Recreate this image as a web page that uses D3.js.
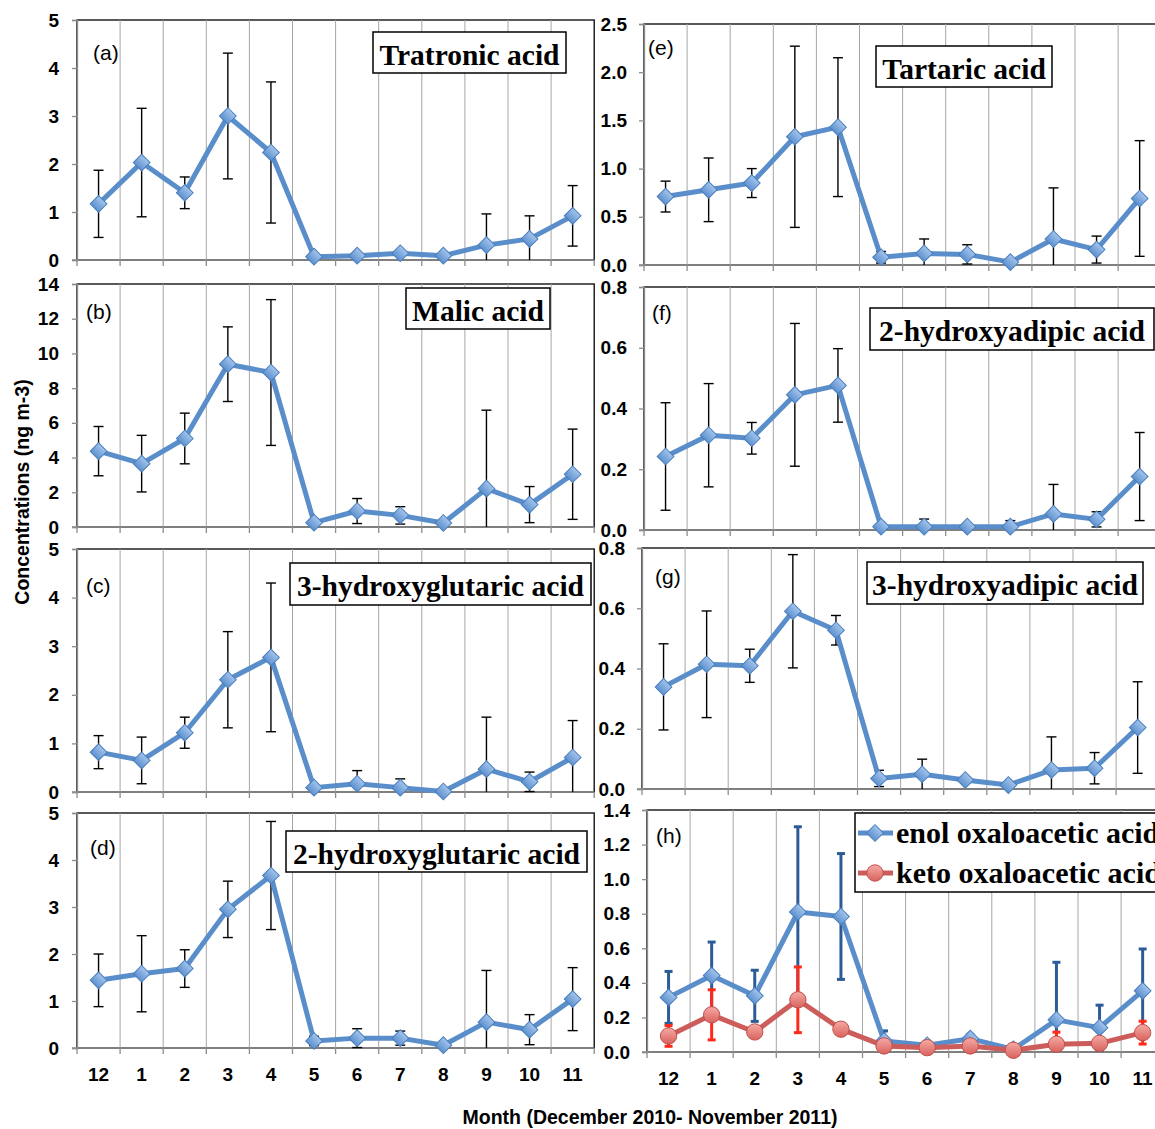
<!DOCTYPE html>
<html><head><meta charset="utf-8">
<script src="https://cdn.jsdelivr.net/npm/d3@7"></script>
<style>body{margin:0;background:#fff} svg{display:block;background:#fff}</style>
</head><body><svg id="chart" width="1155" height="1129"></svg>
<script>
// ---------- data ----------
const months = ["12","1","2","3","4","5","6","7","8","9","10","11"];

const tratronic   = [1.17, 2.03, 1.40, 3.00, 2.24, 0.07, 0.09, 0.14, 0.09, 0.31, 0.44, 0.92];
const tratronicSD = [0.70, 1.13, 0.33, 1.31, 1.47, 0.03, 0.04, 0.05, 0.04, 0.65, 0.48, 0.63];

const malic   = [4.37, 3.65, 5.10, 9.38, 8.90, 0.25, 0.92, 0.67, 0.23, 2.21, 1.29, 3.04];
const malicSD = [1.42, 1.63, 1.46, 2.15, 4.20, 0.15, 0.72, 0.50, 0.10, 4.52, 1.04, 2.60];

const hg3   = [0.82, 0.65, 1.22, 2.31, 2.77, 0.09, 0.17, 0.09, 0.01, 0.47, 0.21, 0.71];
const hg3SD = [0.34, 0.48, 0.32, 0.99, 1.53, 0.05, 0.27, 0.18, 0.02, 1.07, 0.20, 0.76];

const hg2   = [1.44, 1.58, 1.69, 2.95, 3.67, 0.15, 0.21, 0.21, 0.06, 0.55, 0.39, 1.04];
const hg2SD = [0.56, 0.81, 0.40, 0.60, 1.15, 0.10, 0.20, 0.15, 0.04, 1.10, 0.32, 0.67];

const tartaric   = [0.71, 0.78, 0.85, 1.33, 1.43, 0.08, 0.12, 0.11, 0.03, 0.27, 0.16, 0.69];
const tartaricSD = [0.16, 0.33, 0.15, 0.94, 0.72, 0.06, 0.15, 0.10, 0.02, 0.53, 0.14, 0.60];

const ha2   = [0.242, 0.312, 0.302, 0.445, 0.476, 0.011, 0.011, 0.011, 0.011, 0.053, 0.035, 0.176];
const ha2SD = [0.177, 0.170, 0.052, 0.235, 0.121, 0.008, 0.025, 0.010, 0.020, 0.097, 0.025, 0.145];

const ha3   = [0.339, 0.414, 0.409, 0.590, 0.527, 0.035, 0.049, 0.030, 0.013, 0.063, 0.069, 0.204];
const ha3SD = [0.143, 0.177, 0.055, 0.188, 0.049, 0.027, 0.050, 0.010, 0.008, 0.110, 0.052, 0.152];

const enol   = [0.316, 0.442, 0.325, 0.810, 0.784, 0.064, 0.039, 0.077, 0.015, 0.186, 0.141, 0.354];
const enolSD = [0.150, 0.194, 0.148, 0.493, 0.364, 0.058, 0.020, 0.025, 0.008, 0.333, 0.130, 0.242];
const keto   = [0.093, 0.215, 0.116, 0.302, 0.132, 0.035, 0.025, 0.035, 0.010, 0.045, 0.050, 0.112];
const ketoSD = [0.060, 0.145, 0.020, 0.190, 0.020, 0.010, 0.010, 0.010, 0.005, 0.070, 0.020, 0.066];

const titles = ["Tratronic acid","Malic acid","3-hydroxyglutaric acid","2-hydroxyglutaric acid",
                "Tartaric acid","2-hydroxyadipic acid","3-hydroxyadipic acid"];
const legendLabels = ["enol oxaloacetic acid","keto oxaloacetic acid"];
const yTitle = "Concentrations (ng m-3)";
const xTitle = "Month (December 2010- November 2011)";

// ---------- styling ----------
const STEP = 43.1;
const BLUE = "#5a8ecb", RED = "#cd5d5a";
const SANS = "'Liberation Sans', Arial, sans-serif";
const SERIF = "'Liberation Serif', 'Times New Roman', serif";
const svg = d3.select("#chart");
const defs = svg.append("defs");
function grad(id, c1, c2){
  const g = defs.append("linearGradient").attr("id", id).attr("x1",0).attr("y1",0).attr("x2",0).attr("y2",1);
  g.append("stop").attr("offset","0%").attr("stop-color", c1);
  g.append("stop").attr("offset","100%").attr("stop-color", c2);
}
grad("gBlue", "#a3c4ec", "#5d91cf");
grad("gRed", "#f6aaa5", "#d8625d");

const diamond = d3.symbol().type(d3.symbolSquare).size(140);
const circle = d3.symbol().type(d3.symbolCircle).size(210);

const panels = [
  {lab:"(a)", title:0, s:[{v:tratronic, sd:tratronicSD}], max:5, step:1, fmt:"d", left:77, top:20, bottom:260, labXY:[93,60], box:[373,32,193,41]},
  {lab:"(b)", title:1, s:[{v:malic, sd:malicSD}], max:14, step:2, fmt:"d", left:77, top:284, bottom:527, labXY:[86,319], box:[406,288,144,41]},
  {lab:"(c)", title:2, s:[{v:hg3, sd:hg3SD}], max:5, step:1, fmt:"d", left:77, top:549, bottom:792, labXY:[86,593], box:[290,563,301,42]},
  {lab:"(d)", title:3, s:[{v:hg2, sd:hg2SD}], max:5, step:1, fmt:"d", left:77, top:813, bottom:1048, labXY:[90,855], box:[286,831,301,41], xlabels:true},
  {lab:"(e)", title:4, s:[{v:tartaric, sd:tartaricSD}], max:2.5, step:0.5, fmt:".1f", left:644, top:24, bottom:265, labXY:[648,55], box:[876,46,176,41]},
  {lab:"(f)", title:5, s:[{v:ha2, sd:ha2SD}], max:0.8, step:0.2, fmt:".1f", left:644, top:287, bottom:530, labXY:[652,320], box:[870,308,284,42]},
  {lab:"(g)", title:6, s:[{v:ha3, sd:ha3SD}], max:0.8, step:0.2, fmt:".1f", left:642, top:548, bottom:789, labXY:[655,584], box:[867,562,276,42]},
  {lab:"(h)", title:null, s:[
      {v:enol, sd:enolSD, color:BLUE, err:"#2b5c98", errW:3, cap:4, marker:"d"},
      {v:keto, sd:ketoSD, color:RED, err:"#ff2a1a", errW:3, cap:4, marker:"c"}],
    max:1.4, step:0.2, fmt:".1f", left:647, top:810, bottom:1052, labXY:[656,843], xlabels:true, legend:[855,813,330,79]}
];

function drawPanel(p){
  const g = svg.append("g");
  const x = d3.scaleBand().domain(months).range([p.left, p.left + STEP*months.length]);
  const y = d3.scaleLinear().domain([0, p.max]).range([p.bottom, p.top]);
  const [x0, x1] = x.range();
  const ticks = d3.range(0, p.max + p.step/2, p.step);

  // plot border (black)
  g.append("rect").attr("x", x0).attr("y", p.top).attr("width", x1 - x0).attr("height", p.bottom - p.top)
    .attr("fill", "#fff").attr("stroke", "#000").attr("stroke-width", 1.3);
  // vertical grid lines at category boundaries
  g.selectAll("line.grid").data(months.slice(1)).join("line").attr("class","grid")
    .attr("x1", d => x(d)).attr("x2", d => x(d)).attr("y1", p.top).attr("y2", p.bottom)
    .attr("stroke", "#a6a6a6").attr("stroke-width", 1);

  // y axis (gray)
  const yAxis = d3.axisLeft(y).tickValues(ticks).tickFormat(d3.format(p.fmt)).tickSize(5).tickPadding(p.left > 300 ? 12 : 13);
  const ya = g.append("g").attr("transform", `translate(${x0},0)`).call(yAxis);
  ya.select(".domain").attr("stroke", "#8c8c8c").attr("stroke-width", 1.3);
  ya.selectAll(".tick line").attr("stroke", "#8c8c8c").attr("stroke-width", 1.3);
  ya.selectAll(".tick text").attr("font-family", SANS)
    .attr("font-weight", "bold").attr("font-size", 19).attr("fill", "#000");

  // x axis line & boundary ticks (gray)
  g.append("line").attr("x1", x0 - 5).attr("x2", x1).attr("y1", p.bottom).attr("y2", p.bottom)
    .attr("stroke", "#8c8c8c").attr("stroke-width", 1.3);
  g.selectAll("line.xt").data(months.concat(["end"])).join("line").attr("class","xt")
    .attr("x1", d => d === "end" ? x1 : x(d)).attr("x2", d => d === "end" ? x1 : x(d))
    .attr("y1", p.bottom).attr("y2", p.bottom + 6).attr("stroke", "#8c8c8c").attr("stroke-width", 1.3);

  if (p.xlabels){
    g.selectAll("text.xl").data(months).join("text").attr("class","xl")
      .attr("x", d => x(d) + x.bandwidth()/2).attr("y", p.bottom + 33)
      .attr("text-anchor", "middle").attr("font-family", SANS)
      .attr("font-weight", "bold").attr("font-size", 19).text(d => d);
  }

  const cx = i => x(months[i]) + x.bandwidth()/2;

  p.s.forEach(s => {
    const data = s.v.map((v, i) => ({i, v, sd: s.sd[i]}));
    const ec = s.err || "#000", ew = s.errW || 1.4, cap = s.cap || 5;
    // error bars
    const eb = g.append("g");
    data.forEach(d => {
      const lo = Math.max(0, d.v - d.sd), hi = d.v + d.sd;
      eb.append("line").attr("x1", cx(d.i)).attr("x2", cx(d.i)).attr("y1", y(lo)).attr("y2", y(hi))
        .attr("stroke", ec).attr("stroke-width", ew);
      eb.append("line").attr("x1", cx(d.i) - cap).attr("x2", cx(d.i) + cap).attr("y1", y(hi)).attr("y2", y(hi))
        .attr("stroke", ec).attr("stroke-width", ew);
      if (d.v - d.sd > 0)
        eb.append("line").attr("x1", cx(d.i) - cap).attr("x2", cx(d.i) + cap).attr("y1", y(lo)).attr("y2", y(lo))
          .attr("stroke", ec).attr("stroke-width", ew);
    });
    // line
    const col = s.color || BLUE;
    g.append("path").datum(data).attr("fill", "none").attr("stroke", col).attr("stroke-width", 5)
      .attr("stroke-linejoin", "round")
      .attr("d", d3.line().x(d => cx(d.i)).y(d => y(d.v)));
    // markers
    if (s.marker === "c"){
      g.selectAll(null).data(data).join("path")
        .attr("transform", d => `translate(${cx(d.i)},${y(d.v)})`).attr("d", circle())
        .attr("fill", "url(#gRed)").attr("stroke", "#c0504d").attr("stroke-width", 1);
    } else {
      g.selectAll(null).data(data).join("path")
        .attr("transform", d => `translate(${cx(d.i)},${y(d.v)}) rotate(45)`).attr("d", diamond())
        .attr("fill", "url(#gBlue)").attr("stroke", "#4a7ebb").attr("stroke-width", 1);
    }
  });

  // panel letter
  g.append("text").attr("x", p.labXY[0]).attr("y", p.labXY[1])
    .attr("font-family", SANS).attr("font-size", 21).text(p.lab);

  // title box
  if (p.title !== null){
    const [bx, by, bw, bh] = p.box;
    g.append("rect").attr("x", bx).attr("y", by).attr("width", bw).attr("height", bh)
      .attr("fill", "#fff").attr("stroke", "#000").attr("stroke-width", 1.5);
    g.append("text").attr("x", bx + bw/2).attr("y", by + 33).attr("text-anchor", "middle")
      .attr("font-family", SERIF).attr("font-weight", "bold")
      .attr("font-size", 29.5).text(titles[p.title]);
  }

  // legend (extends past the right edge, as in the original)
  if (p.legend){
    const [lx, ly, lw, lh] = p.legend;
    const lg = g.append("g");
    lg.append("rect").attr("x", lx).attr("y", ly).attr("width", lw).attr("height", lh)
      .attr("fill", "#fff").attr("stroke", "#000").attr("stroke-width", 1.5);
    p.s.forEach((s, k) => {
      const yy = ly + 20 + k * 40;
      lg.append("line").attr("x1", lx + 3).attr("x2", lx + 38).attr("y1", yy).attr("y2", yy)
        .attr("stroke", s.color).attr("stroke-width", 5);
      if (s.marker === "c")
        lg.append("path").attr("transform", `translate(${lx + 20},${yy})`).attr("d", circle())
          .attr("fill", "url(#gRed)").attr("stroke", "#c0504d");
      else
        lg.append("path").attr("transform", `translate(${lx + 20},${yy}) rotate(45)`).attr("d", diamond())
          .attr("fill", "url(#gBlue)").attr("stroke", "#4a7ebb");
      lg.append("text").attr("x", lx + 41).attr("y", yy + 10)
        .attr("font-family", SERIF).attr("font-weight", "bold")
        .attr("font-size", 30).text(legendLabels[k]);
    });
  }
}

panels.forEach(drawPanel);

// axis titles
svg.append("text").attr("transform", "translate(29,492) rotate(-90)").attr("text-anchor", "middle")
  .attr("font-family", SANS).attr("font-weight", "bold").attr("font-size", 19.5)
  .text(yTitle);
svg.append("text").attr("x", 650).attr("y", 1124).attr("text-anchor", "middle")
  .attr("font-family", SANS).attr("font-weight", "bold").attr("font-size", 19.5)
  .text(xTitle);
</script></body></html>
